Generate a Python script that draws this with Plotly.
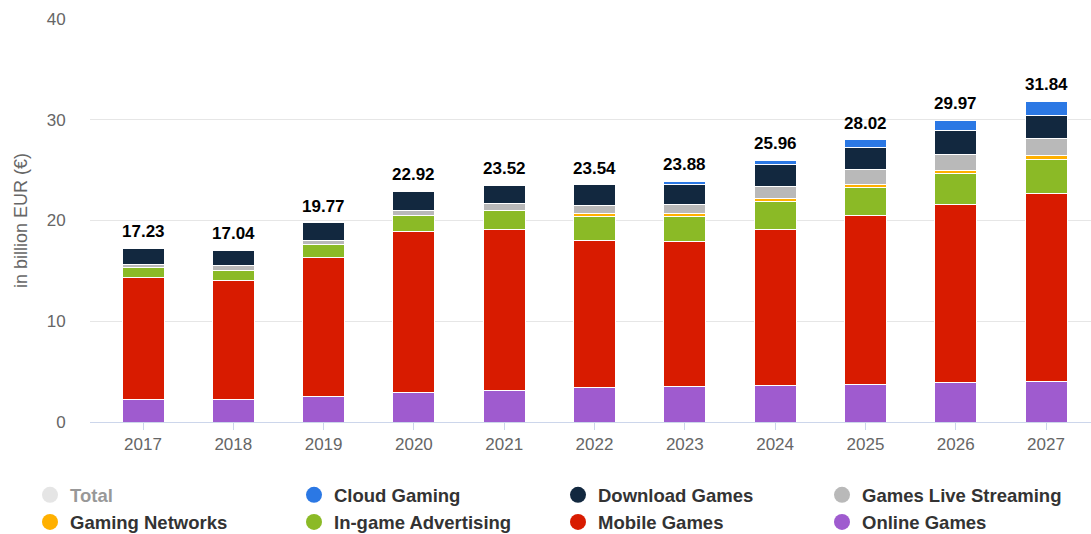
import plotly.graph_objects as go

# Video games market revenue, in billion EUR
years = ["2017", "2018", "2019", "2020", "2021", "2022", "2023", "2024", "2025", "2026", "2027"]
total = [17.23, 17.04, 19.77, 22.92, 23.52, 23.54, 23.88, 25.96, 28.02, 29.97, 31.84]

online_games = [2.25, 2.25, 2.55, 2.90, 3.10, 3.40, 3.50, 3.65, 3.75, 3.95, 4.05]
mobile_games = [12.10, 11.80, 13.75, 16.05, 16.00, 14.60, 14.40, 15.45, 16.75, 17.60, 18.60]
ingame_ads = [0.95, 1.00, 1.30, 1.55, 1.85, 2.40, 2.45, 2.80, 2.75, 3.10, 3.40]
gaming_networks = [0.00, 0.00, 0.00, 0.00, 0.00, 0.25, 0.30, 0.30, 0.35, 0.35, 0.40]
live_streaming = [0.35, 0.45, 0.45, 0.50, 0.75, 0.80, 0.95, 1.20, 1.50, 1.60, 1.70]
download_games = [1.58, 1.54, 1.72, 1.92, 1.82, 2.09, 1.95, 2.15, 2.15, 2.30, 2.30]
cloud_gaming = [0.00, 0.00, 0.00, 0.00, 0.00, 0.00, 0.33, 0.41, 0.77, 1.07, 1.39]

# stacking order, bottom to top
stack = [
    ("Online Games", online_games, "#9f5bcf"),
    ("Mobile Games", mobile_games, "#d81b00"),
    ("In-game Advertising", ingame_ads, "#8bba26"),
    ("Gaming Networks", gaming_networks, "#ffb000"),
    ("Games Live Streaming", live_streaming, "#b9b9b9"),
    ("Download Games", download_games, "#12283f"),
    ("Cloud Gaming", cloud_gaming, "#2b78e4"),
]
colors = {name: c for name, _, c in stack}

# legend reading order (row by row)
legend_order = ["Cloud Gaming", "Download Games", "Games Live Streaming",
                "Gaming Networks", "In-game Advertising", "Mobile Games", "Online Games"]

FONT = "Liberation Sans, Arial, Helvetica, sans-serif"

# plot area geometry in pixels (used to place the legend in paper units)
PLOT_L, PLOT_W = 90, 1001
PLOT_BOTTOM, PLOT_H = 421.7, 402.7

fig = go.Figure()

for name, vals, col in stack:
    fig.add_trace(go.Bar(
        x=years, y=vals, name=name, legendgroup=name, showlegend=False,
        marker=dict(color=col, line=dict(color="white", width=1)),
        hovertemplate="%{x}: %{y:.2f}<extra>" + name + "</extra>",
    ))

# circular legend markers
fig.add_trace(go.Scatter(
    x=years, y=total, name="Total", mode="markers", visible="legendonly",
    marker=dict(color="#cccccc", size=16, symbol="circle"),
))
for name in legend_order:
    fig.add_trace(go.Scatter(
        x=[None], y=[None], name=name, legendgroup=name, mode="markers",
        marker=dict(color=colors[name], size=16, symbol="circle"),
    ))

# total labels above each stack (x given as category index)
for i, t in enumerate(total):
    fig.add_annotation(
        x=i, y=t, xref="x", yref="y", text=f"<b>{t:.2f}</b>", showarrow=False,
        yanchor="bottom", yshift=5,
        font=dict(family=FONT, size=17, color="#000000"),
    )

fig.update_layout(
    width=1091, height=534,
    margin=dict(l=90, r=0, t=19, b=112, autoexpand=False),
    paper_bgcolor="white", plot_bgcolor="white",
    barmode="stack", bargap=0.535,
    font=dict(family=FONT, color="#666666"),
    showlegend=True,
    legend=dict(
        orientation="h",
        x=(30 - PLOT_L) / PLOT_W, xanchor="left",
        y=-(476 - PLOT_BOTTOM) / PLOT_H, yanchor="top",
        entrywidth=219, entrywidthmode="pixels", itemsizing="trace",
        traceorder="normal", itemclick=False, itemdoubleclick=False,
        font=dict(family=FONT, size=18.5, color="#333333", weight="bold"),
        bgcolor="rgba(0,0,0,0)",
    ),
    xaxis=dict(
        type="category", range=[-0.587, 10.498],
        showgrid=False, showline=True, linecolor="#ccd6eb", linewidth=1,
        ticks="outside", ticklen=7, tickcolor="#ccd6eb",
        tickfont=dict(family=FONT, size=17, color="#666666"),
    ),
    yaxis=dict(
        range=[0, 40], tickvals=[0, 10, 20, 30, 40],
        showgrid=True, gridcolor="#e6e6e6", gridwidth=1, zeroline=False,
        ticks="outside", ticklen=20, tickcolor="rgba(0,0,0,0)",
        tickfont=dict(family=FONT, size=17, color="#666666"),
        title=dict(text="in billion EUR (€)", standoff=14,
                   font=dict(family=FONT, size=18, color="#666666")),
    ),
)

fig.write_html("out.html")
